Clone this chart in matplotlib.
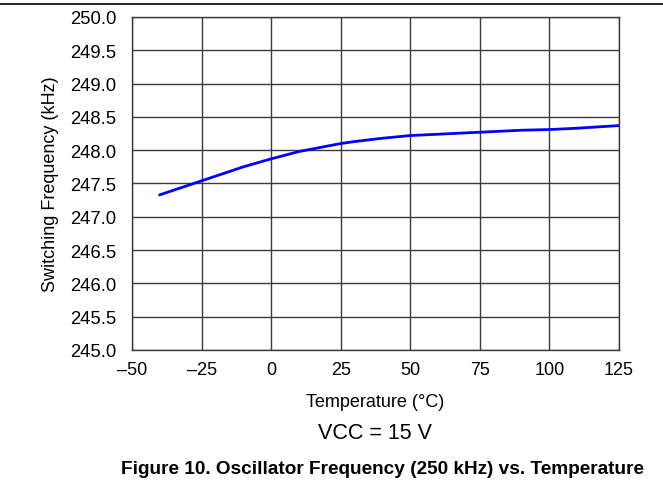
import matplotlib.pyplot as plt
import numpy as np

plt.rcParams['font.family'] = ['Liberation Sans', 'DejaVu Sans']

# Curve
temp = [-40, -30, -25, -20, -10, 0, 10, 20, 25, 30, 40, 50, 60, 75, 90, 100, 110, 125]
freq = [247.33, 247.47, 247.54, 247.61, 247.75, 247.87, 247.98, 248.06, 248.10, 248.13, 248.18, 248.22, 248.24, 248.27, 248.30, 248.31, 248.33, 248.37]

xticks = [-50, -25, 0, 25, 50, 75, 100, 125]
xlabels = ['\u201350', '\u201325', '0', '25', '50', '75', '100', '125']
yticks = np.arange(245.0, 250.01, 0.5)

W, H = 663, 489
fig = plt.figure(figsize=(W / 100, H / 100), dpi=100)
L, R, T, B = 132, 619, 18, 351
ax = fig.add_axes([L / W, 1 - B / H, (R - L) / W, (B - T) / H])

ax.plot(temp, freq, color='#0000ff', linewidth=2.0)

ax.set_xlim(-50, 125)
ax.set_ylim(245, 250)
ax.set_xticks(xticks)
ax.set_xticklabels(xlabels)
ax.set_yticks(yticks)
ax.set_yticklabels(['%.1f' % v for v in yticks])
ax.tick_params(axis='x', length=0, labelsize=13, pad=8)
ax.tick_params(axis='y', length=0, labelsize=13.3, pad=11)
ax.grid(True, color='#3a3a3a', linewidth=1.0)
for s in ax.spines.values():
    s.set_color('#3a3a3a')
    s.set_linewidth(1.0)

cx = (L + R) / 2 / W
fig.text(cx, 1 - 407 / H, 'Temperature (°C)', ha='center', va='baseline', fontsize=13)
fig.text(51 / W, 1 - (T + B) / 2 / H, 'Switching Frequency (kHz)', ha='center', va='center',
         rotation=90, fontsize=13)
fig.text(cx, 1 - 439 / H, 'VCC = 15 V', ha='center', va='baseline', fontsize=15.5)
fig.text(383 / W, 1 - 474 / H, 'Figure 10. Oscillator Frequency (250 kHz) vs. Temperature',
         ha='center', va='baseline', fontsize=13.7, fontweight='bold')

# line across the top of the page
fig.add_artist(plt.Line2D([0, 1], [1 - 4.7 / H, 1 - 4.7 / H], color='black', linewidth=1.2))

fig.savefig('out.png', dpi=100)
